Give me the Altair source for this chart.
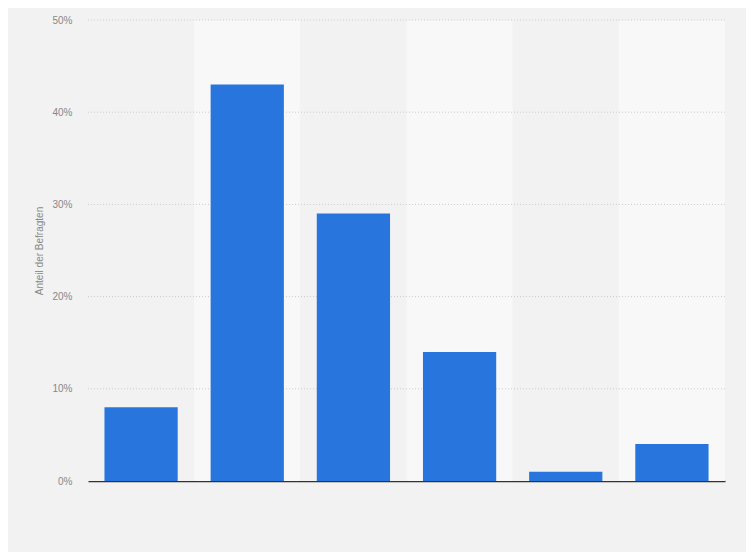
import altair as alt
import pandas as pd

categories = ["A", "B", "C", "D", "E", "F"]
values = [8, 43, 29, 14, 1, 4]
band_shade = ["dark", "light", "dark", "light", "dark", "light"]
tick_values = [0.1, 0.2, 0.3, 0.4, 0.5]

df = pd.DataFrame({"cat": categories, "val": [v / 100 for v in values], "shade": band_shade})
grid_df = pd.DataFrame({"t": tick_values})

W, H = 637, 461
yscale = alt.Scale(domain=[0, 0.5], nice=False)
yaxis = alt.Axis(format=".0%", values=[0, 0.1, 0.2, 0.3, 0.4, 0.5],
                 domain=False, ticks=False, labelPadding=16,
                 labelColor="#888888", labelFontSize=10, labelFont="Liberation Sans",
                 titleColor="#888888", titleFontSize=10, titleFont="Liberation Sans",
                 titleFontWeight="normal", titlePadding=7, grid=False)
ytitle = "Anteil der Befragten"

bands = alt.Chart(df).mark_rect().encode(
    x=alt.X("cat:N", sort=categories, axis=None,
            scale=alt.Scale(paddingInner=0, paddingOuter=0)),
    y=alt.value(0),
    y2=alt.value(H),
    color=alt.Color("shade:N", scale=alt.Scale(domain=["dark", "light"], range=["#f2f2f2", "#f8f8f8"]), legend=None),
)

grid = alt.Chart(grid_df).mark_rule(color="#cccccc", strokeDash=[1, 2], strokeWidth=1).encode(
    y=alt.Y("t:Q", scale=yscale, axis=yaxis, title=ytitle),
    x=alt.value(0),
    x2=alt.value(W),
)

bars = alt.Chart(df).mark_bar(color="#2876dd").encode(
    x=alt.X("cat:N", sort=categories, title=None,
            scale=alt.Scale(paddingInner=0.31, paddingOuter=0.155),
            axis=alt.Axis(labels=False, ticks=False, domain=True, domainColor="#333333",
                          domainWidth=1.4, grid=False)),
    y=alt.Y("val:Q", title=ytitle, scale=yscale, axis=yaxis),
)

chart = alt.layer(bands, grid, bars).resolve_scale(x="independent", color="independent").properties(
    width=W, height=H,
    background="#f2f2f2",
    padding={"left": 80, "top": 12, "right": 21, "bottom": 71},
    autosize=alt.AutoSizeParams(type="none"),
).configure_view(stroke=None)

chart.save("out.html", embed_options={"renderer": "svg", "actions": False})
